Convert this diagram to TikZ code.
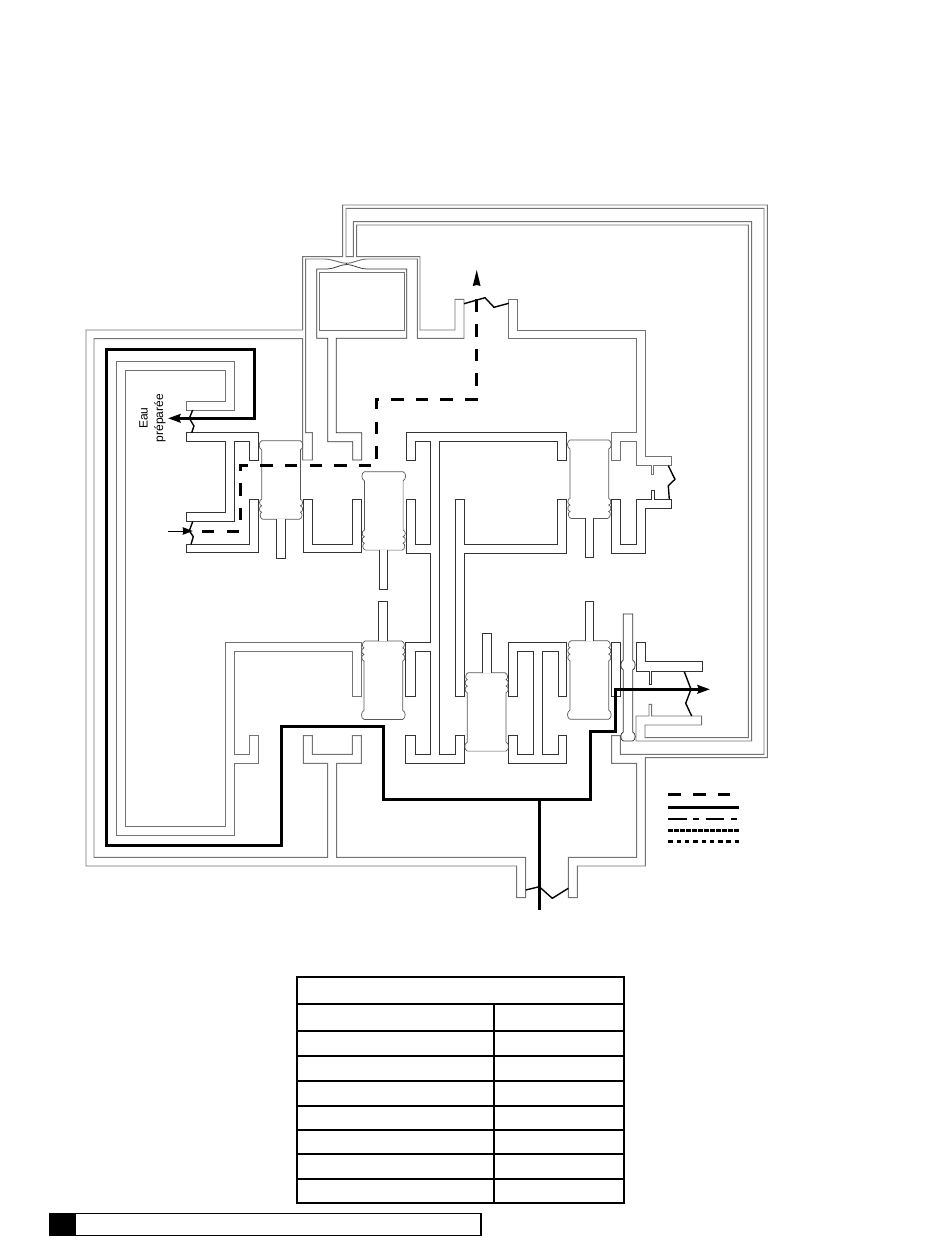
\documentclass[tikz,border=0pt]{standalone}
\usepackage{fontspec}
\setmainfont{Liberation Sans}
\usetikzlibrary{arrows.meta}
\tikzset{
  wall/.style={draw=black!80,line width=0.75pt,line join=miter},
  wallg/.style={draw=black!55,line width=0.95pt,line join=miter},
  valveline/.style={draw=black!65,line width=0.7pt,line join=miter},
  flowsolid/.style={draw=black,line width=3pt,line join=miter},
  flowdash/.style={draw=black,line width=3pt,dash pattern=on 12.5pt off 12.2pt},
  zig/.style={draw=black,line width=1.4pt,line join=round},
  headbig/.style={-{Stealth[length=12.5pt,width=8.5pt,inset=1.5pt]}},
  tbl/.style={draw=black,line width=2pt},
}
\newcommand{\valvebody}{%
  \draw[valveline] (0,0) -- (38.7,0)
    .. controls (42,1) and (42,8) .. (38.7,9)
    -- (38.7,58.4)
    .. controls (41.6,59) and (41.6,64.5) .. (38.7,65)
    .. controls (41.6,65.5) and (41.6,71) .. (38.7,71.5)
    .. controls (41,72) and (41,77.5) .. (37.7,78.4)
    -- (1,78.4)
    .. controls (-2.3,77.5) and (-2.3,72) .. (0,71.5)
    .. controls (-2.9,71) and (-2.9,65.5) .. (0,65)
    .. controls (-2.9,64.5) and (-2.9,59) .. (0,58.4)
    -- (0,9)
    .. controls (-3.3,8) and (-3.3,1) .. (0,0) -- cycle;}
\newcommand{\valvedown}[2]{\begin{scope}[shift={(#1,#2)}]\valvebody\end{scope}}
\newcommand{\valveup}[2]{\begin{scope}[shift={(#1,#2+78.4)},yscale=-1]\valvebody\end{scope}}
\newcommand{\stem}[4]{\fill[white] (#1,#3) rectangle (#2,#4);\draw[wall] (#1,#3) -- (#1,#4) -- (#2,#4) -- (#2,#3);}
\begin{document}
\begin{tikzpicture}[x=1pt,y=-1pt]
\useasboundingbox (0,0) rectangle (950,1254);
\fill[white] (0,0) rectangle (950,1254);

% long closed wall line around the plant
\draw[wallg] (302.7,330) -- (86,330) -- (86,866) -- (516.7,866) -- (516.7,897.7) -- (525.7,897.7) -- (525.7,857.3)
  -- (336.7,857.3) -- (336.7,763.3) -- (361.3,763.3) -- (361.3,735.7) -- (352.3,735.7) -- (352.3,754.3)
  -- (312.3,754.3) -- (312.3,735.7) -- (303.3,735.7) -- (303.3,763.3) -- (327.7,763.3) -- (327.7,857.3)
  -- (94,857.3) -- (94,338.7) -- (302.7,338.7) -- (302.7,460) -- (312.3,460) -- (312.3,432.7) -- (305.7,432.7)
  -- (305.7,259) -- (325,259) .. controls (334,259.5) and (340,263.3) .. (346.7,263.3)
  .. controls (353,263.3) and (358,259.5) .. (366.7,259) -- (417.3,259) -- (417.3,338.3) -- (464,338.3)
  -- (464,299.3) -- (455,299.3) -- (455,330) -- (420,330) -- (420,256.7) -- (356.7,256.7) -- (356.7,225)
  -- (748.3,225) -- (748.3,737.7) -- (645,737.7) -- (645,725) -- (701.7,725) -- (701.7,716) -- (651.7,716)
  -- (651.7,704.3) -- (649,704.3) -- (649,716) -- (636,716) -- (636,741) -- (751.7,741) -- (751.7,221.7)
  -- (353.3,221.7) -- (353.3,256.7) -- (346,256.7) -- (346,208.3) -- (764,208.3) -- (764,754.3) -- (620.3,754.3)
  -- (620.3,735.7) -- (611.7,735.7) -- (611.7,763.3) -- (636.7,763.3) -- (636.7,857.3) -- (568.3,857.3)
  -- (568.3,897.7) -- (577.3,897.7) -- (577.3,866) -- (645.3,866) -- (645.3,757.7) -- (767.3,757.7)
  -- (767.3,205) -- (342.7,205) -- (342.7,256.7) -- (302.7,256.7) -- cycle;

% box under the top valve
\draw[wall] (316.7,269) -- (326.7,269) .. controls (336,268.5) and (340,264.5) .. (346.7,264.5)
  .. controls (353,264.5) and (358,268.5) .. (366.7,269) -- (406.7,269) -- (406.7,338.3) -- (336.3,338.3)
  -- (336.3,432.7) -- (361.7,432.7) -- (361.7,460) -- (352.7,460) -- (352.7,441.7) -- (327.7,441.7)
  -- (327.7,338.3) -- (316.7,338.3) -- cycle;
\draw[wall] (346.7,263.3) -- (346.7,264.5);
\draw[wallg] (319.3,272.3) rectangle (404.3,330);

% upper right channel
\draw[wallg] (508.7,299.3) -- (517.7,299.3) -- (517.7,330) -- (645,330) -- (645,456.7) -- (671.7,456.7) -- (671.7,465.7)
  -- (653.3,465.7) -- (653.3,474.3) -- (651,474.3) -- (651,465.7) -- (636.7,465.7) -- (636.7,441.7) -- (620.7,441.7)
  -- (620.7,460.7) -- (611.7,460.7) -- (611.7,432.7) -- (636.7,432.7) -- (636.7,338.3) -- (508.7,338.3) -- cycle;
\draw[wall] (671.7,499.3) -- (654.3,499.3) -- (654.3,490.7) -- (651,490.7) -- (651,499.3) -- (636.7,499.3) -- (636.7,544.3)
  -- (620.7,544.3) -- (620.7,499.3) -- (611.7,499.3) -- (611.7,553.3) -- (645,553.3) -- (645,508.3) -- (671.7,508.3) -- cycle;

% centre channels
\draw[wall] (406,432.7) -- (566.7,432.7) -- (566.7,460.7) -- (557.7,460.7) -- (557.7,441.7) -- (439.3,441.7)
  -- (439.3,754.3) -- (455,754.3) -- (455,735.7) -- (464.3,735.7) -- (464.3,763.3) -- (405.7,763.3) -- (405.7,735.7)
  -- (415,735.7) -- (415,754.3) -- (430.7,754.3) -- (430.7,651.7) -- (415,651.7) -- (415,696) -- (405.7,696)
  -- (405.7,642.7) -- (430.7,642.7) -- (430.7,553.3) -- (406,553.3) -- (406,499.3) -- (415,499.3) -- (415,544.3)
  -- (430.7,544.3) -- (430.7,441.7) -- (415,441.7) -- (415,460.7) -- (406,460.7) -- cycle;
\draw[wall] (455,696) -- (455,499.3) -- (464,499.3) -- (464,544.3) -- (557.7,544.3) -- (557.7,499.3) -- (566.7,499.3)
  -- (566.7,553.3) -- (464,553.3) -- (464,696) -- cycle;
\draw[wall] (508.3,642.3) -- (566.7,642.3) -- (566.7,696) -- (558.3,696) -- (558.3,651.7) -- (542.3,651.7) -- (542.3,754.3)
  -- (558.3,754.3) -- (558.3,735.7) -- (566.7,735.7) -- (566.7,763.3) -- (508.3,763.3) -- (508.3,735.7) -- (517.7,735.7)
  -- (517.7,754.3) -- (533.3,754.3) -- (533.3,651.7) -- (517.7,651.7) -- (517.7,696) -- (508.3,696) -- cycle;

% left channels
\draw[wallg] (186.7,401) -- (225,401) -- (225,370.7) -- (125.3,370.7) -- (125.3,826) -- (225,826) -- (225,642.7)
  -- (361.7,642.7) -- (361.7,696) -- (352.3,696) -- (352.3,651.7) -- (234,651.7) -- (234,754.3) -- (249.3,754.3)
  -- (249.3,735.7) -- (258.7,735.7) -- (258.7,763.3) -- (234,763.3) -- (234,835) -- (116.3,835) -- (116.3,361.7)
  -- (234,361.7) -- (234,410) -- (186.7,410) -- cycle;
\draw[wall] (186.7,432.7) -- (258.3,432.7) -- (258.3,460) -- (249.7,460) -- (249.7,441.7) -- (234,441.7) -- (234,521.7)
  -- (186.7,521.7) -- (186.7,512.7) -- (225,512.7) -- (225,441.7) -- (186.7,441.7) -- cycle;
\draw[wall] (249.7,499.3) -- (258.3,499.3) -- (258.3,552.7) -- (186.7,552.7) -- (186.7,544.3) -- (249.7,544.3) -- cycle;
\draw[wall] (303.3,499.3) -- (312.3,499.3) -- (312.3,544.3) -- (352.7,544.3) -- (352.7,499.3) -- (361.7,499.3)
  -- (361.7,552.7) -- (303.3,552.7) -- cycle;

% lower right pieces
\draw[wall] (611.7,642.3) rectangle (620.3,696);
\draw[wall] (636,642.3) -- (645,642.3) -- (645,661.7) -- (702.3,661.7) -- (702.3,671) -- (651.7,671) -- (651.7,684)
  -- (649,684) -- (649,671) -- (636,671) -- cycle;
\draw[wall] (623.3,614) -- (632.7,614) -- (632.7,660) .. controls (636,661) and (636,669) .. (632.7,670)
  -- (632.7,732) .. controls (636,733) and (636,740) .. (632.7,741) -- (623.3,741)
  .. controls (620,740) and (620,733) .. (623.3,732) -- (623.3,670) .. controls (620,669) and (620,661) .. (623.3,660) -- cycle;

% valves
\valvedown{261.7}{440.8}
\valvedown{364.4}{471.7}
\valvedown{570}{440}
\valveup{364}{641}
\valveup{467.3}{672.7}
\valveup{570}{640.8}
\stem{276.7}{285}{519.2}{558.3}
\stem{379.3}{387.7}{550.1}{589}
\stem{585}{593.3}{518.4}{557.3}
\stem{378.3}{387.3}{641}{601.7}
\stem{482.3}{491.3}{672.7}{633.3}
\stem{585}{593.3}{640.8}{601.7}

% sealing breaks
\draw[zig] (192.7,410) -- (189.3,418.3) -- (194,426) -- (191.7,432.7);
\draw[zig] (192.7,521.7) -- (189.3,530.7) -- (193.3,536.7) -- (191,544.3);
\draw[zig] (464,303.7) -- (485,297.7) -- (494,307.3) -- (508.7,303.3);
\draw[zig] (525.7,890) -- (539.3,886.7) -- (552.3,898.3) -- (568.3,888.3);
\draw[zig] (668.3,465.7) -- (675,479.3) -- (668.3,485.7) -- (669.3,499.3);
\draw[zig] (684.3,671.7) -- (691,689.3) -- (685.7,703.3) -- (691.7,716);

% flows
\draw[flowsolid,headbig] (539.3,910) -- (539.3,799.3) -- (383.3,799.3) -- (383.3,726.7) -- (281,726.7) -- (281,845.7)
  -- (106,845.7) -- (106,349.3) -- (254,349.3) -- (254,418.3) -- (168,418.3);
\draw[flowsolid,headbig] (539.3,799.3) -- (590,799.3) -- (590,731) -- (615.7,731) -- (615.7,689.3) -- (710,689.3);
\draw[flowdash] (476.7,299.3) -- (476.7,399) -- (376.7,399) -- (376.7,465.7) -- (240.7,465.7) -- (240.7,531) -- (200,531);
\fill[black] (476.7,270) -- (480.6,286) -- (476.7,285) -- (472.8,286) -- cycle;
\draw[black,line width=1pt,-{Stealth[length=10pt,width=7.5pt,inset=0.5pt]}] (168.3,531) -- (192.7,531);

% legend
\draw[draw=black,line width=2.5pt,dash pattern=on 12.5pt off 12.2pt] (668.3,794.3) -- (739.3,794.3);
\draw[draw=black,line width=3pt] (668.3,807.3) -- (739.3,807.3);
\draw[draw=black,line width=2pt,dash pattern=on 18.3pt off 6.7pt on 6pt off 6.3pt] (668.3,819) -- (739.3,819);
\draw[draw=black,line width=2.5pt,dash pattern=on 5pt off 1pt] (668.3,830.3) -- (739.3,830.3);
\draw[draw=black,line width=3pt,dash pattern=on 4.5pt off 3.8pt] (668.3,841.7) -- (739.3,841.7);

% label
\node[rotate=90,align=center,inner sep=0pt,font=\fontsize{12}{15.5}\selectfont] (eau) at (152.5,418) {Eau\\préparée};

% table
\draw[tbl] (296.5,977) rectangle (624,1203);
\foreach \yy in {1004,1031,1056,1081,1105.5,1130,1154,1179}
  \draw[tbl] (296.5,\yy) -- (624,\yy);
\draw[tbl] (494,1004) -- (494,1203);

% footer bar
\draw[draw=black,line width=1.2pt] (50,1213.7) rectangle (481,1235.5);
\fill[black] (50,1213.7) rectangle (76,1235.5);
\end{tikzpicture}
\end{document}
